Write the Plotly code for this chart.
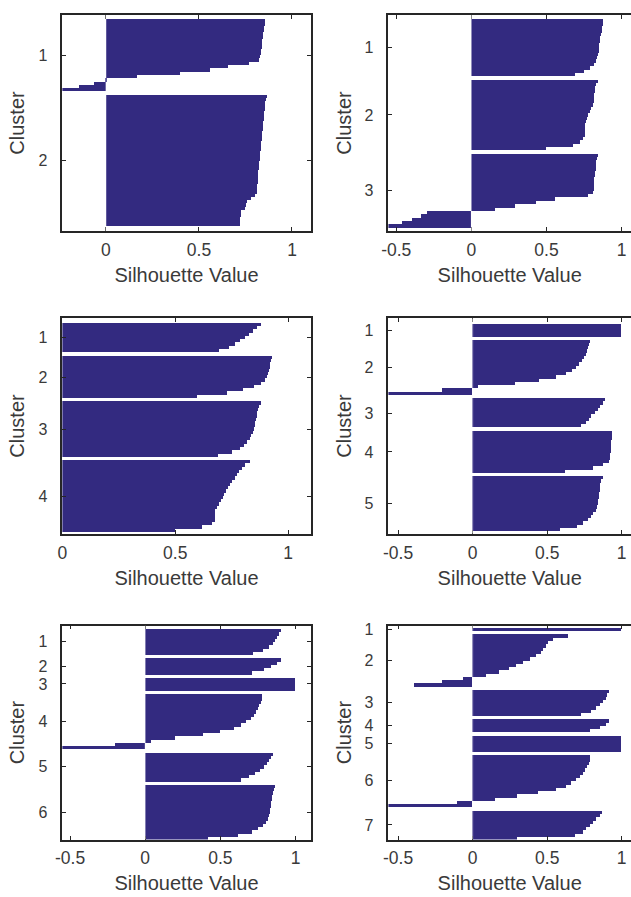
import plotly.graph_objects as go

# ---------------- data (silhouette values, sorted within each cluster) ----------------
p1_c1 = [0.858, 0.855, 0.852, 0.849, 0.847, 0.845, 0.843, 0.841, 0.839, 0.836, 0.834, 0.831,
         0.825, 0.77, 0.66, 0.56, 0.40, 0.17, 0.01, -0.06, -0.14, -0.234]
p1_c2 = [0.866, 0.862, 0.859, 0.857, 0.855, 0.853, 0.851, 0.849, 0.847, 0.845, 0.844, 0.842,
         0.841, 0.839, 0.837, 0.835, 0.834, 0.832, 0.830, 0.828, 0.827, 0.825, 0.824, 0.822,
         0.821, 0.819, 0.818, 0.816, 0.815, 0.813, 0.805, 0.780, 0.762, 0.755, 0.748, 0.730,
         0.726, 0.725, 0.725, 0.724]

p2_c1 = [0.882, 0.877, 0.873, 0.869, 0.866, 0.862, 0.858, 0.855, 0.852, 0.849, 0.846, 0.842,
         0.834, 0.818, 0.792, 0.752, 0.69]
p2_c2 = [0.845, 0.835, 0.828, 0.825, 0.822, 0.820, 0.817, 0.810, 0.800, 0.790, 0.780, 0.772,
         0.765, 0.762, 0.760, 0.758, 0.756, 0.745, 0.725, 0.68, 0.50]
p2_c3 = [0.846, 0.840, 0.835, 0.832, 0.829, 0.826, 0.824, 0.822, 0.820, 0.818, 0.816, 0.812,
         0.78, 0.56, 0.43, 0.29, 0.16, -0.29, -0.33, -0.39, -0.46, -0.552]

p3_c1 = [0.88, 0.865, 0.848, 0.83, 0.81, 0.79, 0.765, 0.74, 0.695]
p3_c2 = [0.93, 0.927, 0.923, 0.92, 0.917, 0.914, 0.91, 0.90, 0.88, 0.85, 0.80, 0.73, 0.60]
p3_c3 = [0.88, 0.872, 0.869, 0.866, 0.864, 0.861, 0.857, 0.854, 0.85, 0.845, 0.838, 0.832,
         0.822, 0.806, 0.787, 0.755, 0.69]
p3_c4 = [0.832, 0.81, 0.797, 0.786, 0.775, 0.765, 0.755, 0.743, 0.735, 0.727, 0.72, 0.712,
         0.705, 0.697, 0.685, 0.677, 0.677, 0.677, 0.676, 0.665, 0.62, 0.50]

p4_c1 = [1.0, 1.0, 1.0, 1.0]
p4_c2 = [0.792, 0.784, 0.778, 0.772, 0.762, 0.75, 0.735, 0.716, 0.695, 0.672, 0.63, 0.56,
         0.45, 0.29, 0.04, -0.2, -0.565]
p4_c3 = [0.892, 0.875, 0.86, 0.845, 0.825, 0.80, 0.78, 0.765, 0.73]
p4_c4 = [0.938, 0.937, 0.935, 0.933, 0.932, 0.93, 0.928, 0.926, 0.922, 0.915, 0.88, 0.81, 0.62]
p4_c5 = [0.874, 0.866, 0.86, 0.857, 0.854, 0.851, 0.848, 0.845, 0.841, 0.837, 0.828, 0.812,
         0.795, 0.777, 0.745, 0.70, 0.59]

p5_c1 = [0.906, 0.895, 0.88, 0.865, 0.85, 0.828, 0.785, 0.72]
p5_c2 = [0.905, 0.88, 0.84, 0.79, 0.71]
p5_c3 = [1.0, 1.0, 1.0, 1.0]
p5_c4 = [0.782, 0.777, 0.77, 0.762, 0.752, 0.74, 0.725, 0.705, 0.675, 0.64, 0.59, 0.50,
         0.39, 0.20, 0.04, -0.2, -0.551]
p5_c5 = [0.852, 0.84, 0.826, 0.81, 0.79, 0.765, 0.73, 0.69, 0.64]
p5_c6 = [0.864, 0.857, 0.852, 0.849, 0.845, 0.842, 0.838, 0.834, 0.83, 0.825, 0.818, 0.805,
         0.785, 0.755, 0.71, 0.62, 0.42]

p6_c1 = [1.0]
p6_c2 = [0.64, 0.545, 0.51, 0.494, 0.478, 0.461, 0.425, 0.385, 0.34, 0.295, 0.245, 0.18,
         0.09, -0.06, -0.2, -0.388]
p6_c3 = [0.915, 0.907, 0.895, 0.88, 0.86, 0.83, 0.80, 0.73]
p6_c4 = [0.915, 0.895, 0.86, 0.79]
p6_c5 = [1.0, 1.0, 1.0, 1.0, 1.0]
p6_c6 = [0.792, 0.787, 0.78, 0.77, 0.757, 0.74, 0.72, 0.695, 0.665, 0.627, 0.56, 0.44,
         0.30, 0.15, -0.1, -0.565]
p6_c7 = [0.87, 0.858, 0.83, 0.81, 0.79, 0.765, 0.74, 0.69, 0.30]

panels = [
    [p1_c1, p1_c2],
    [p2_c1, p2_c2, p2_c3],
    [p3_c1, p3_c2, p3_c3, p3_c4],
    [p4_c1, p4_c2, p4_c3, p4_c4, p4_c5],
    [p5_c1, p5_c2, p5_c3, p5_c4, p5_c5, p5_c6],
    [p6_c1, p6_c2, p6_c3, p6_c4, p6_c5, p6_c6, p6_c7],
]
cluster_labels = ["1", "2", "3", "4", "5", "6", "7"]
x_tick_vals = [-0.5, 0, 0.5, 1]
x_tick_text = ["-0.5", "0", "0.5", "1"]

# ---------------- styling / layout ----------------
W, H = 631, 897
BAR = "#332a80"
AX = "#262626"
TXT = "#3a3a3a"
FONT = "Liberation Sans, Arial, sans-serif"
GAP = 1
pad_top = [1.2, 1.2, 1.5, 1.7, 1.0, 0.6]
pad_bot = [1.4, 1.0, 0.5, 0.7, 0.0, 0.0]
col_dom = [[56 / W, 307 / W], [385.7 / W, 1.0]]
full_w = 307 - 56
right_visible = (W - 385.7) / full_w
row_dom = [[1 - 227.3 / H, 1 - 10 / H], [1 - 531.7 / H, 1 - 315 / H], [1 - 839.3 / H, 1 - 624 / H]]

fig = go.Figure()
layout = dict(width=W, height=H, margin=dict(l=0, r=0, t=0, b=0),
              paper_bgcolor="white", plot_bgcolor="white", showlegend=False,
              bargap=0, font=dict(family=FONT, color=TXT))
shapes = []

for k, clusters in enumerate(panels):
    n = k + 1
    col, row = k % 2, k // 2
    xs, ys, tvals = [], [], []
    pos = 1
    for vals in clusters:
        p = list(range(pos, pos + len(vals)))
        ys += p
        xs += vals
        tvals.append((p[0] + p[-1]) / 2)
        pos += len(vals) + GAP
    last = pos - GAP - 1
    yr = [last + 0.5 + pad_bot[k], 0.5 - pad_top[k]]
    xmin = min(0.0, min(xs))
    xmax = 1.1 if col == 0 else xmin + (1.1 - xmin) * right_visible

    sfx = "" if n == 1 else str(n)
    fig.add_trace(go.Bar(x=xs, y=ys, orientation="h", width=1,
                         marker=dict(color=BAR, line=dict(width=0)),
                         xaxis="x" + sfx, yaxis="y" + sfx, hoverinfo="skip"))

    layout["xaxis" + sfx] = dict(
        domain=col_dom[col], anchor="y" + sfx, range=[xmin, xmax],
        tickvals=x_tick_vals, ticktext=x_tick_text, ticks="inside", ticklen=4,
        tickwidth=1.3, tickcolor=AX, showline=True, linewidth=1.6, linecolor=AX,
        mirror="ticks", showgrid=False, zeroline=False,
        tickfont=dict(size=17.5, color=TXT), ticklabelstandoff=2,
        title=dict(text="Silhouette Value", font=dict(size=20, color=TXT), standoff=9))
    layout["yaxis" + sfx] = dict(
        domain=row_dom[row], anchor="x" + sfx, range=yr,
        tickvals=tvals, ticktext=cluster_labels[:len(clusters)], ticks="inside", ticklen=4,
        tickwidth=1.3, tickcolor=AX, showline=True, linewidth=1.6, linecolor=AX,
        mirror="ticks" if col == 0 else False, showgrid=False, zeroline=False,
        tickfont=dict(size=16, color=TXT), ticklabelstandoff=10,
        title=dict(text="Cluster", font=dict(size=20, color=TXT), standoff=8))
    if xmin < 0:
        shapes.append(dict(type="line", xref="x" + sfx, yref="y" + sfx, x0=0, x1=0,
                           y0=yr[0], y1=yr[1], line=dict(color="rgba(255,255,255,0.55)", width=1),
                           layer="above"))

layout["shapes"] = shapes
fig.update_layout(**layout)
fig.write_html("out.html")
